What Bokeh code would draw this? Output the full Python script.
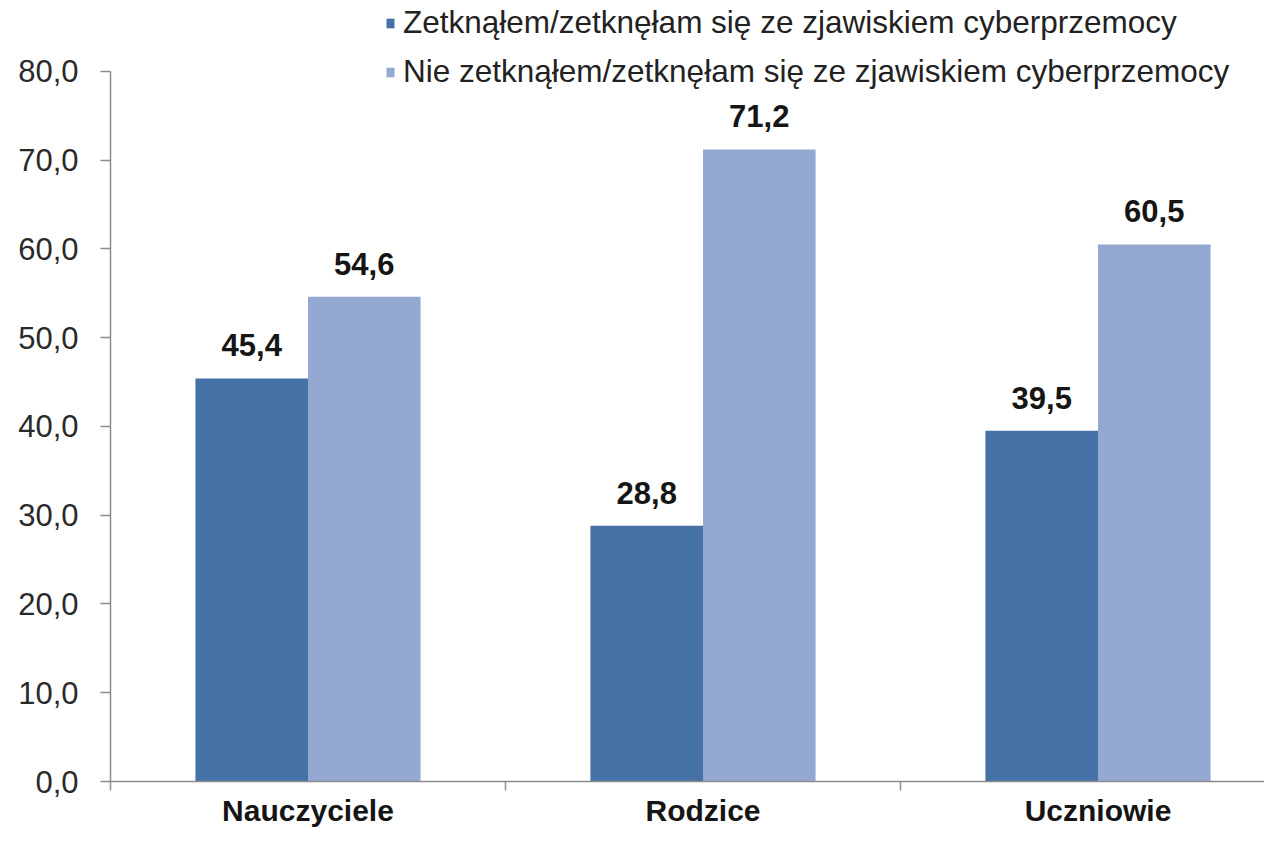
from bokeh.plotting import figure
from bokeh.models import ColumnDataSource, FixedTicker, Range1d, LabelSet
from bokeh.core.properties import value
from bokeh.embed import file_html
from bokeh.resources import INLINE

categories = ["Nauczyciele", "Rodzice", "Uczniowie"]
series_names = ["Zetknąłem/zetknęłam się ze zjawiskiem cyberprzemocy",
                "Nie zetknąłem/zetknęłam się ze zjawiskiem cyberprzemocy"]
met = [45.4, 28.8, 39.5]
not_met = [54.6, 71.2, 60.5]
y_ticks = [0, 10, 20, 30, 40, 50, 60, 70, 80]

colors = ["#4571A6", "#94A9D2"]
FONT = "Liberation Sans"
bar_w = 0.285
centers = [i + 0.5 for i in range(len(categories))]

p = figure(width=1264, height=829, output_backend="svg", toolbar_location=None,
           x_range=Range1d(0, 1154 / 395), y_range=Range1d(0, 80 + 71 / 8.9),
           min_border_left=110, min_border_right=0, min_border_top=0, min_border_bottom=46)
p.outline_line_color = None
p.grid.grid_line_color = None

src1 = ColumnDataSource(dict(x=[c - bar_w / 2 for c in centers], top=met,
                             lab=[f"{v:.1f}".replace(".", ",") for v in met]))
src2 = ColumnDataSource(dict(x=[c + bar_w / 2 for c in centers], top=not_met,
                             lab=[f"{v:.1f}".replace(".", ",") for v in not_met]))
p.vbar(x="x", top="top", width=bar_w, source=src1, fill_color=colors[0], line_color=None,
       legend_label=series_names[0])
p.vbar(x="x", top="top", width=bar_w, source=src2, fill_color=colors[1], line_color=None,
       legend_label=series_names[1])

for src in (src1, src2):
    p.add_layout(LabelSet(x="x", y="top", text="lab", source=src, text_align="center",
                          text_baseline="alphabetic", y_offset=22, text_font=value(FONT),
                          text_font_size="31px", text_font_style="bold", text_color="#151515"))

# y axis
p.yaxis.bounds = (0, 80)
p.yaxis.ticker = FixedTicker(ticks=y_ticks, minor_ticks=[])
p.yaxis.major_label_overrides = {t: f"{t:.1f}".replace(".", ",") for t in y_ticks}
p.yaxis.major_label_text_font = FONT
p.yaxis.major_label_text_font_size = "31px"
p.yaxis.major_label_text_color = "#2a2a2a"
p.yaxis.axis_line_color = "#8c8c8c"
p.yaxis.axis_line_width = 1.5
p.yaxis.major_tick_line_color = "#8c8c8c"
p.yaxis.major_tick_line_width = 1.5
p.yaxis.major_tick_out = 10
p.yaxis.major_tick_in = 0
p.yaxis.major_label_standoff = 22

# x axis
p.xaxis.ticker = FixedTicker(ticks=centers, minor_ticks=[0, 1, 2, 3])
p.xaxis.major_label_overrides = {c: n for c, n in zip(centers, categories)}
p.xaxis.major_label_text_font = FONT
p.xaxis.major_label_text_font_size = "30px"
p.xaxis.major_label_text_font_style = "bold"
p.xaxis.major_label_text_color = "#151515"
p.xaxis.axis_line_color = "#8c8c8c"
p.xaxis.axis_line_width = 1.5
p.xaxis.major_tick_out = 0
p.xaxis.major_tick_in = 0
p.xaxis.minor_tick_line_color = "#8c8c8c"
p.xaxis.minor_tick_line_width = 1.5
p.xaxis.minor_tick_out = 9
p.xaxis.minor_tick_in = 0
p.xaxis.major_label_standoff = 3

lg = p.legend[0]
lg.location = (275, 691)
lg.padding = 0
lg.margin = 0
lg.spacing = 12
lg.glyph_width = 10
lg.glyph_height = 12
lg.label_height = 36
lg.label_standoff = 8
lg.label_text_font = FONT
lg.label_text_font_size = "31.5px"
lg.label_text_color = "#222222"
lg.border_line_alpha = 0
lg.background_fill_alpha = 0

open("out.html", "w").write(file_html(p, INLINE))
